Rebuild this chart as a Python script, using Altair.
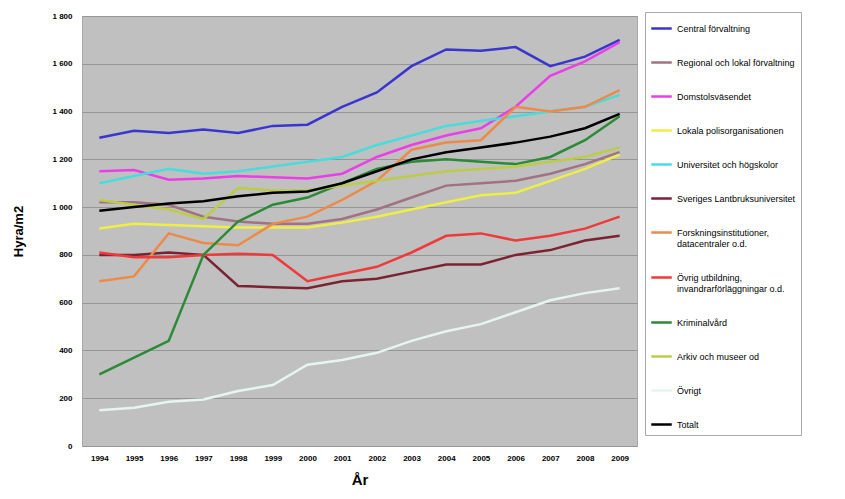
import altair as alt
import pandas as pd

years = [str(y) for y in range(1994, 2010)]

series_names = [
    "Central förvaltning",
    "Regional och lokal förvaltning",
    "Domstolsväsendet",
    "Lokala polisorganisationen",
    "Universitet och högskolor",
    "Sveriges Lantbruksuniversitet",
    "Forskningsinstitutioner,\ndatacentraler o.d.",
    "Övrig utbildning,\ninvandrarförläggningar o.d.",
    "Kriminalvård",
    "Arkiv och museer od",
    "Övrigt",
    "Totalt",
]

central = [1290, 1320, 1310, 1325, 1310, 1340, 1345, 1420, 1480, 1590, 1660, 1655, 1670, 1590, 1630, 1700]
regional = [1020, 1020, 1010, 960, 940, 930, 930, 950, 990, 1040, 1090, 1100, 1110, 1140, 1180, 1230]
domstol = [1150, 1155, 1115, 1120, 1130, 1125, 1120, 1140, 1210, 1260, 1300, 1330, 1420, 1550, 1610, 1690]
polis = [910, 930, 925, 920, 915, 915, 915, 935, 960, 990, 1020, 1050, 1060, 1110, 1160, 1220]
univ = [1100, 1130, 1160, 1140, 1150, 1170, 1190, 1210, 1260, 1300, 1340, 1360, 1380, 1400, 1420, 1470]
slu = [800, 800, 810, 800, 670, 665, 660, 690, 700, 730, 760, 760, 800, 820, 860, 880]
forskning = [690, 710, 890, 850, 840, 930, 960, 1030, 1110, 1240, 1270, 1280, 1420, 1400, 1420, 1490]
ovrig_utb = [810, 790, 790, 800, 805, 800, 690, 720, 750, 810, 880, 890, 860, 880, 910, 960]
kriminal = [300, 370, 440, 800, 940, 1010, 1040, 1100, 1160, 1190, 1200, 1190, 1180, 1210, 1280, 1380]
arkiv = [1030, 1010, 990, 950, 1080, 1070, 1070, 1090, 1110, 1130, 1150, 1160, 1170, 1190, 1210, 1250]
ovrigt = [150, 160, 185, 195, 230, 255, 340, 360, 390, 440, 480, 510, 560, 610, 640, 660]
totalt = [985, 1000, 1015, 1025, 1045, 1060, 1065, 1100, 1150, 1200, 1230, 1250, 1270, 1295, 1330, 1390]

all_values = [central, regional, domstol, polis, univ, slu, forskning, ovrig_utb,
              kriminal, arkiv, ovrigt, totalt]

colors = ["#3b35d0", "#a07282", "#ea3fe8", "#eeee44", "#48dcdc", "#7c2232",
          "#ee8a48", "#ee3a3a", "#2a8a36", "#bccc48", "#e6f6ee", "#000000"]
widths = [2.5] * 11 + [3.5]

rows = []
for i, (name, vals) in enumerate(zip(series_names, all_values)):
    for y, v in zip(years, vals):
        rows.append({"Year": y, "Value": v, "Series": name, "order": i})
df = pd.DataFrame(rows)

chart = alt.Chart(df).mark_line().encode(
    x=alt.X("Year:O", scale=alt.Scale(type="point", padding=0.5),
            axis=alt.Axis(title="År", labelAngle=0, labelFontSize=8, labelFontWeight="bold",
                          titleFontSize=15, titleFontWeight="bold", ticks=False, domain=False,
                          labelPadding=8, titlePadding=10, grid=False)),
    y=alt.Y("Value:Q", scale=alt.Scale(domain=[0, 1800], nice=False),
            axis=alt.Axis(title="Hyra/m2", values=list(range(0, 1801, 200)),
                          labelExpr="replace(format(datum.value, ','), ',', ' ')",
                          labelFontSize=8, labelFontWeight="bold", titleFontSize=13,
                          titleFontWeight="bold", ticks=False, domain=False, labelPadding=10,
                          titlePadding=26, gridColor="#969696", gridWidth=1)),
    color=alt.Color("Series:N", sort=series_names,
                    scale=alt.Scale(domain=series_names, range=colors),
                    legend=alt.Legend(title=None, orient="none", legendX=563, legendY=-4,
                                      symbolType="stroke", symbolSize=420, symbolStrokeWidth=2.5,
                                      labelFontSize=9, labelLimit=200, rowPadding=17,
                                      fillColor="white", strokeColor="#aaaaaa", padding=5,
                                      labelExpr="split(datum.label, '\\n')")),
    strokeWidth=alt.StrokeWidth("Series:N", scale=alt.Scale(domain=series_names, range=widths),
                                legend=None),
    order=alt.Order("order:Q"),
).properties(
    width=555, height=430,
    autosize=alt.AutoSizeParams(type="none"),
    padding={"left": 74, "top": 8, "right": 200, "bottom": 45},
).configure(
    font="Liberation Sans"
).configure_view(
    fill="#c0c0c0", stroke="#a8a8a8"
)

chart.save("out.html", embed_options={"renderer": "svg", "actions": False})
